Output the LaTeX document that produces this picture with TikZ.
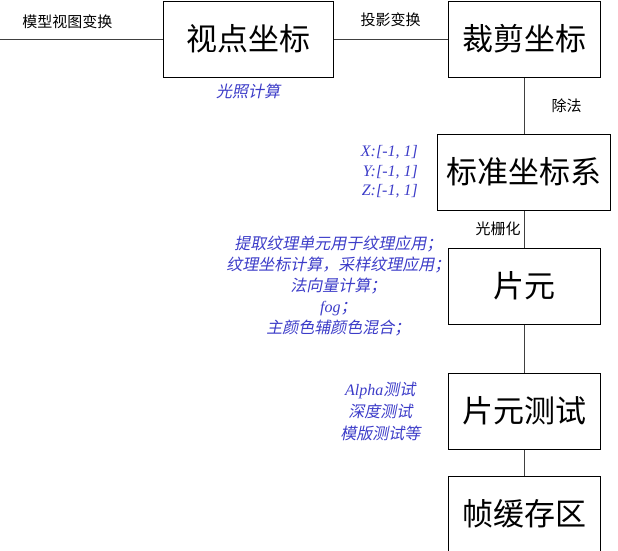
\documentclass[tikz,border=0pt]{standalone}
\usepackage{fontspec}
\setmainfont{Liberation Serif}
\newfontfamily\cjk{Noto Sans CJK SC}
\newfontfamily\cjkit{Noto Sans CJK SC}[FakeSlant=0.2]
\newcommand{\latit}[1]{{\rmfamily\itshape #1}}
\usetikzlibrary{positioning}
\definecolor{noteblue}{RGB}{60,60,200}

\begin{document}
\begin{tikzpicture}[x=1pt, y=1pt,
  stage/.style={draw, line width=1pt, minimum width=152pt, minimum height=76pt, inner sep=0pt, font=\cjk\fontsize{31}{36}\selectfont},
  link/.style={draw=black!75, line width=1pt},
  lbl/.style={font=\cjk\fontsize{15}{18}\selectfont, inner sep=0pt},
  note/.style={text=noteblue, font=\cjkit\fontsize{16}{21}\selectfont, inner sep=0pt}]
  \useasboundingbox (0,0) rectangle (618,-550);
  \node (view) [stage, minimum width=170pt] at (248,-39) {视点坐标};
  \node (clip) [stage, right=114pt of view] {裁剪坐标};
  \node (ndc) [stage, minimum width=173pt, below=56pt of clip] {标准坐标系};
  \node (frag) [stage, below=37pt of ndc] {片元};
  \node (test) [stage, below=48pt of frag] {片元测试};
  \node (fb) [stage, below=26pt of test] {帧缓存区};
  \coordinate (start) at (0,-39);
  \draw[link] (start) -- (view) node[midway, above=10pt, lbl, xshift=-14pt] {模型视图变换};
  \draw[link] (view) -- (clip) node[midway, above=12pt, lbl] {投影变换};
  \draw[link] (clip) -- (ndc) node[midway, right=27pt, lbl] {除法};
  \draw[link] (ndc) -- (frag) node[midway, left=3pt, lbl] {光栅化};
  \draw[link] (frag) -- (test);
  \draw[link] (test) -- (fb);
  \node (light) [note, below=6pt of view] {光照计算};
  \node (range) [note, font=\cjkit\fontsize{16}{19.5}\selectfont, align=right, left=19pt of ndc] {\latit{X:[-1, 1]}\\\latit{Y:[-1, 1]}\\\latit{Z:[-1, 1]}};
  \node (texops) [note, align=center, left=-3pt of frag] {提取纹理单元用于纹理应用；\\纹理坐标计算，采样纹理应用；\\法向量计算；\\\latit{fog}；\\主颜色辅颜色混合；};
  \node (tests) [note, font=\cjkit\fontsize{16}{22}\selectfont, align=center, left=27pt of test] {\latit{Alpha}测试\\深度测试\\模版测试等};
\end{tikzpicture}
\end{document}
